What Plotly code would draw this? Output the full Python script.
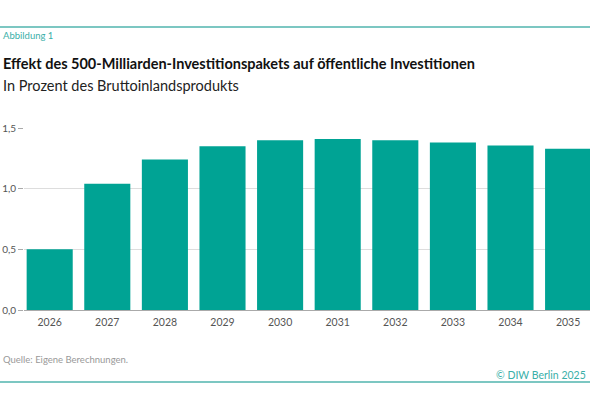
import plotly.graph_objects as go

years = ["2026", "2027", "2028", "2029", "2030", "2031", "2032", "2033", "2034", "2035"]
values = [0.50, 1.04, 1.24, 1.35, 1.40, 1.41, 1.40, 1.38, 1.355, 1.33]
y_tickvals = [0, 0.5, 1.0, 1.5]
y_ticktext = ["0,0", "0,5", "1,0", "1,5"]

TEAL = "#00A394"
LINE_TEAL = "#7CC7C2"
FONT = "Lato"

L, T, B = 24, 128, 100
PW, PH = 590 - L, 182

def px(x):
    return (x - L) / PW

def py(y):
    return (310 - y) / PH

fig = go.Figure(go.Bar(x=list(range(len(years))), y=values, marker=dict(color=TEAL, line=dict(width=0)),
                       width=0.8))

fig.update_layout(
    width=590, height=410,
    margin=dict(l=L, r=0, t=T, b=B, autoexpand=False),
    paper_bgcolor="white", plot_bgcolor="white",
    showlegend=False,
    font=dict(family=FONT, color="#555555", size=10),
    xaxis=dict(range=[-0.446, 9.38], tickvals=list(range(len(years))), ticktext=years,
               showgrid=False, zeroline=False, showline=True, linecolor="#AAAAAA", linewidth=1,
               ticks="outside", ticklen=2, tickcolor="rgba(0,0,0,0)",
               tickfont=dict(size=10.5, color="#555555", family=FONT), fixedrange=True),
    yaxis=dict(range=[0, 1.5], tickvals=y_tickvals, ticktext=y_ticktext,
               showgrid=True, gridcolor="#DDDDDD", gridwidth=1, zeroline=False, showline=False,
               ticks="outside", ticklen=5, tickcolor="#AAAAAA", automargin=False,
               tickfont=dict(size=10, color="#555555", family=FONT), fixedrange=True),
    bargap=0.2,
)

anns = [
    dict(text="Abbildung 1", x=px(1), y=py(35), xanchor="left",
         font=dict(size=9.5, color="#3AAFA9", family=FONT)),
    dict(text="<b>Effekt des 500-Milliarden-Investitionspakets auf öffentliche Investitionen</b>",
         x=px(1), y=py(64), xanchor="left", font=dict(size=14.5, color="#111111", family=FONT)),
    dict(text="In Prozent des Bruttoinlandsprodukts", x=px(1), y=py(86), xanchor="left",
         font=dict(size=14.5, color="#222222", family=FONT)),
    dict(text="Quelle: Eigene Berechnungen.", x=px(1), y=py(359), xanchor="left",
         font=dict(size=9.5, color="#999999", family=FONT)),
    dict(text="© DIW Berlin 2025", x=px(588), y=py(375), xanchor="right",
         font=dict(size=10.5, color="#3AAFA9", family=FONT)),
]
for a in anns:
    fig.add_annotation(xref="paper", yref="paper", yanchor="middle", showarrow=False, **a)

for yy in (27, 382):
    fig.add_shape(type="line", xref="paper", yref="paper", x0=px(0), x1=px(590), y0=py(yy), y1=py(yy),
                  line=dict(color=LINE_TEAL, width=2))

fig.write_html("out.html")
